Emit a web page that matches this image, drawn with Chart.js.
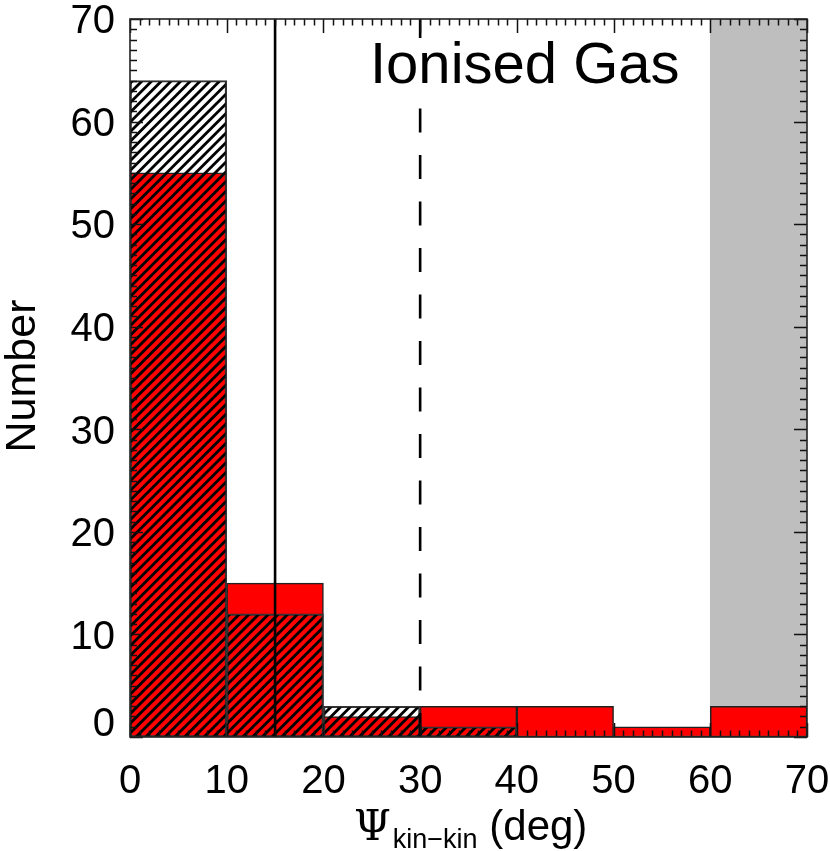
<!DOCTYPE html>
<html>
<head>
<meta charset="utf-8">
<script src="https://cdn.jsdelivr.net/npm/chart.js@4/dist/chart.umd.min.js"></script>
<style>
  html, body { margin: 0; padding: 0; background: #ffffff; }
  #wrap { width: 830px; height: 851px; }
</style>
</head>
<body>
<div id="wrap"><canvas id="c" width="830" height="851"></canvas></div>
<script>
// ---------------- data ----------------
const binCenters   = [5, 15, 25, 35, 45, 55, 65];      // Psi_kin-kin bins (deg), width 10
const redCounts    = [55, 15, 2, 3, 3, 1, 3];           // red filled histogram
const hatchCounts  = [64, 12, 3, 1, 0, 0, 0];           // black-hatched histogram
const xTickValues  = [0, 10, 20, 30, 40, 50, 60, 70];
const yTickValues  = [0, 10, 20, 30, 40, 50, 60, 70];
const solidLineX   = [15, 15];
const dashedLineX  = [30, 30];
const lineYRange   = [0, 70];
const shadedCenter = [65];
const shadedHeight = [70];
const panelLabel   = "Ionised Gas";
const yTitle       = "Number";
const xTitleMain   = "\u03A8";
const xTitleSub    = "kin\u2212kin";
const xTitleUnit   = "(deg)";

// ---------------- hatch pattern ----------------
function makeHatch() {
  const p = 9.7;
  const size = Math.round(p * 10);
  const c = document.createElement('canvas');
  c.width = size; c.height = size;
  const g = c.getContext('2d');
  g.strokeStyle = '#000';
  g.lineWidth = 2.8;
  g.lineCap = 'butt';
  for (let k = -12; k <= 12; k++) {
    g.beginPath();
    g.moveTo(k * p - 2, size + 2);
    g.lineTo(k * p + size + 2, -2);
    g.stroke();
  }
  return g.createPattern(c, 'repeat');
}
const hatch = makeHatch();

const SANS = '"Liberation Sans", Arial, Helvetica, sans-serif';
const SERIF = '"DejaVu Serif", "Liberation Serif", serif';

const decorPlugin = {
  id: 'decor',
  afterDatasetsDraw(chart) {
    const ctx = chart.ctx;
    const xs = chart.scales.x, ys = chart.scales.y;
    const a = chart.chartArea;
    ctx.save();

    // panel label with white background
    ctx.font = '58px ' + SANS;
    const lx = 370, lb = 83;
    const w = ctx.measureText(panelLabel).width;
    ctx.fillStyle = '#ffffff';
    ctx.fillRect(lx - 5, 38, w + 10, 65);
    ctx.fillStyle = '#000';
    ctx.textAlign = 'left';
    ctx.textBaseline = 'alphabetic';
    ctx.fillText(panelLabel, lx, lb);

    // ticks
    ctx.strokeStyle = '#111';
    ctx.lineWidth = 1.5;
    ctx.beginPath();
    for (let v = xs.min; v <= xs.max; v += 1) {
      const px = Math.round(xs.getPixelForValue(v)) + 0.5;
      const len = (v % 10 === 0) ? 14 : 6.5;
      ctx.moveTo(px, a.bottom); ctx.lineTo(px, a.bottom - len);
      ctx.moveTo(px, a.top); ctx.lineTo(px, a.top + len);
    }
    for (let v = ys.min; v <= ys.max; v += 1) {
      const py = Math.round(ys.getPixelForValue(v)) + 0.5;
      const len = (v % 10 === 0) ? 13 : 7;
      ctx.moveTo(a.left, py); ctx.lineTo(a.left + len, py);
      ctx.moveTo(a.right, py); ctx.lineTo(a.right - len, py);
    }
    ctx.stroke();

    // frame
    ctx.strokeStyle = '#222';
    ctx.lineWidth = 1.6;
    ctx.strokeRect(a.left, a.top, a.right - a.left, a.bottom - a.top);

    // x tick labels
    ctx.fillStyle = '#000';
    ctx.font = '40px ' + SANS;
    ctx.textAlign = 'center';
    ctx.textBaseline = 'alphabetic';
    xTickValues.forEach(v => {
      ctx.fillText(String(v), xs.getPixelForValue(v), 793);
    });

    // y tick labels (the 0 label lifted above the x axis, as in IDL)
    ctx.textAlign = 'right';
    yTickValues.forEach(v => {
      let base = ys.getPixelForValue(v) + 14.3;
      if (v === ys.min) base = ys.getPixelForValue(v) - 1.5;
      ctx.fillText(String(v), 115, base);
    });

    // y title
    ctx.save();
    ctx.translate(35, (a.top + a.bottom) / 2 - 2);
    ctx.rotate(-Math.PI / 2);
    ctx.font = '43px ' + SANS;
    ctx.textAlign = 'center';
    ctx.textBaseline = 'alphabetic';
    ctx.fillText(yTitle, 0, 0);
    ctx.restore();

    // x title: Psi with subscript
    ctx.textAlign = 'left';
    let x0 = 354;
    ctx.font = '42px ' + SERIF;
    ctx.fillText(xTitleMain, x0, 840);
    x0 += ctx.measureText(xTitleMain).width + 2;
    ctx.font = '27px ' + SANS;
    ctx.fillText(xTitleSub, x0, 848);
    x0 += ctx.measureText(xTitleSub).width;
    ctx.font = '42px ' + SANS;
    x0 += ctx.measureText(' ').width;
    ctx.fillText(xTitleUnit, x0, 840);

    ctx.restore();
  }
};

new Chart(document.getElementById('c'), {
  type: 'bar',
  data: {
    datasets: [
      {
        type: 'line',
        data: lineYRange.map((y, i) => ({ x: solidLineX[i], y })),
        borderColor: '#000',
        borderWidth: 2.6,
        pointRadius: 0,
        fill: false,
        order: 0
      },
      {
        type: 'line',
        data: lineYRange.map((y, i) => ({ x: dashedLineX[i], y })),
        borderColor: '#000',
        borderWidth: 2.6,
        borderDash: [24, 22.5],
        pointRadius: 0,
        fill: false,
        order: 0
      },
      {
        data: binCenters.map((x, i) => ({ x, y: hatchCounts[i] })),
        backgroundColor: hatch,
        borderColor: '#333',
        borderWidth: 1.5,
        borderSkipped: false,
        grouped: false,
        barPercentage: 1,
        categoryPercentage: 1,
        order: 1
      },
      {
        data: binCenters.map((x, i) => ({ x, y: redCounts[i] })),
        backgroundColor: '#ff0000',
        borderColor: '#222',
        borderWidth: 1.5,
        borderSkipped: false,
        grouped: false,
        barPercentage: 1,
        categoryPercentage: 1,
        order: 2
      },
      {
        data: shadedCenter.map((x, i) => ({ x, y: shadedHeight[i] })),
        backgroundColor: '#bebebe',
        borderWidth: 0,
        grouped: false,
        barPercentage: 1,
        categoryPercentage: 1,
        order: 3
      }
    ]
  },
  options: {
    responsive: false,
    animation: false,
    devicePixelRatio: 1,
    layout: { padding: { left: 130, right: 23, top: 19, bottom: 114 } },
    plugins: { legend: { display: false }, tooltip: { enabled: false } },
    scales: {
      x: {
        type: 'linear', display: false, min: 0, max: 70, offset: false,
        ticks: { stepSize: 10 }, grid: { offset: false }
      },
      y: {
        type: 'linear', display: false, min: 0, max: 70,
        ticks: { stepSize: 10 }
      }
    }
  },
  plugins: [decorPlugin]
});
</script>
</body>
</html>
